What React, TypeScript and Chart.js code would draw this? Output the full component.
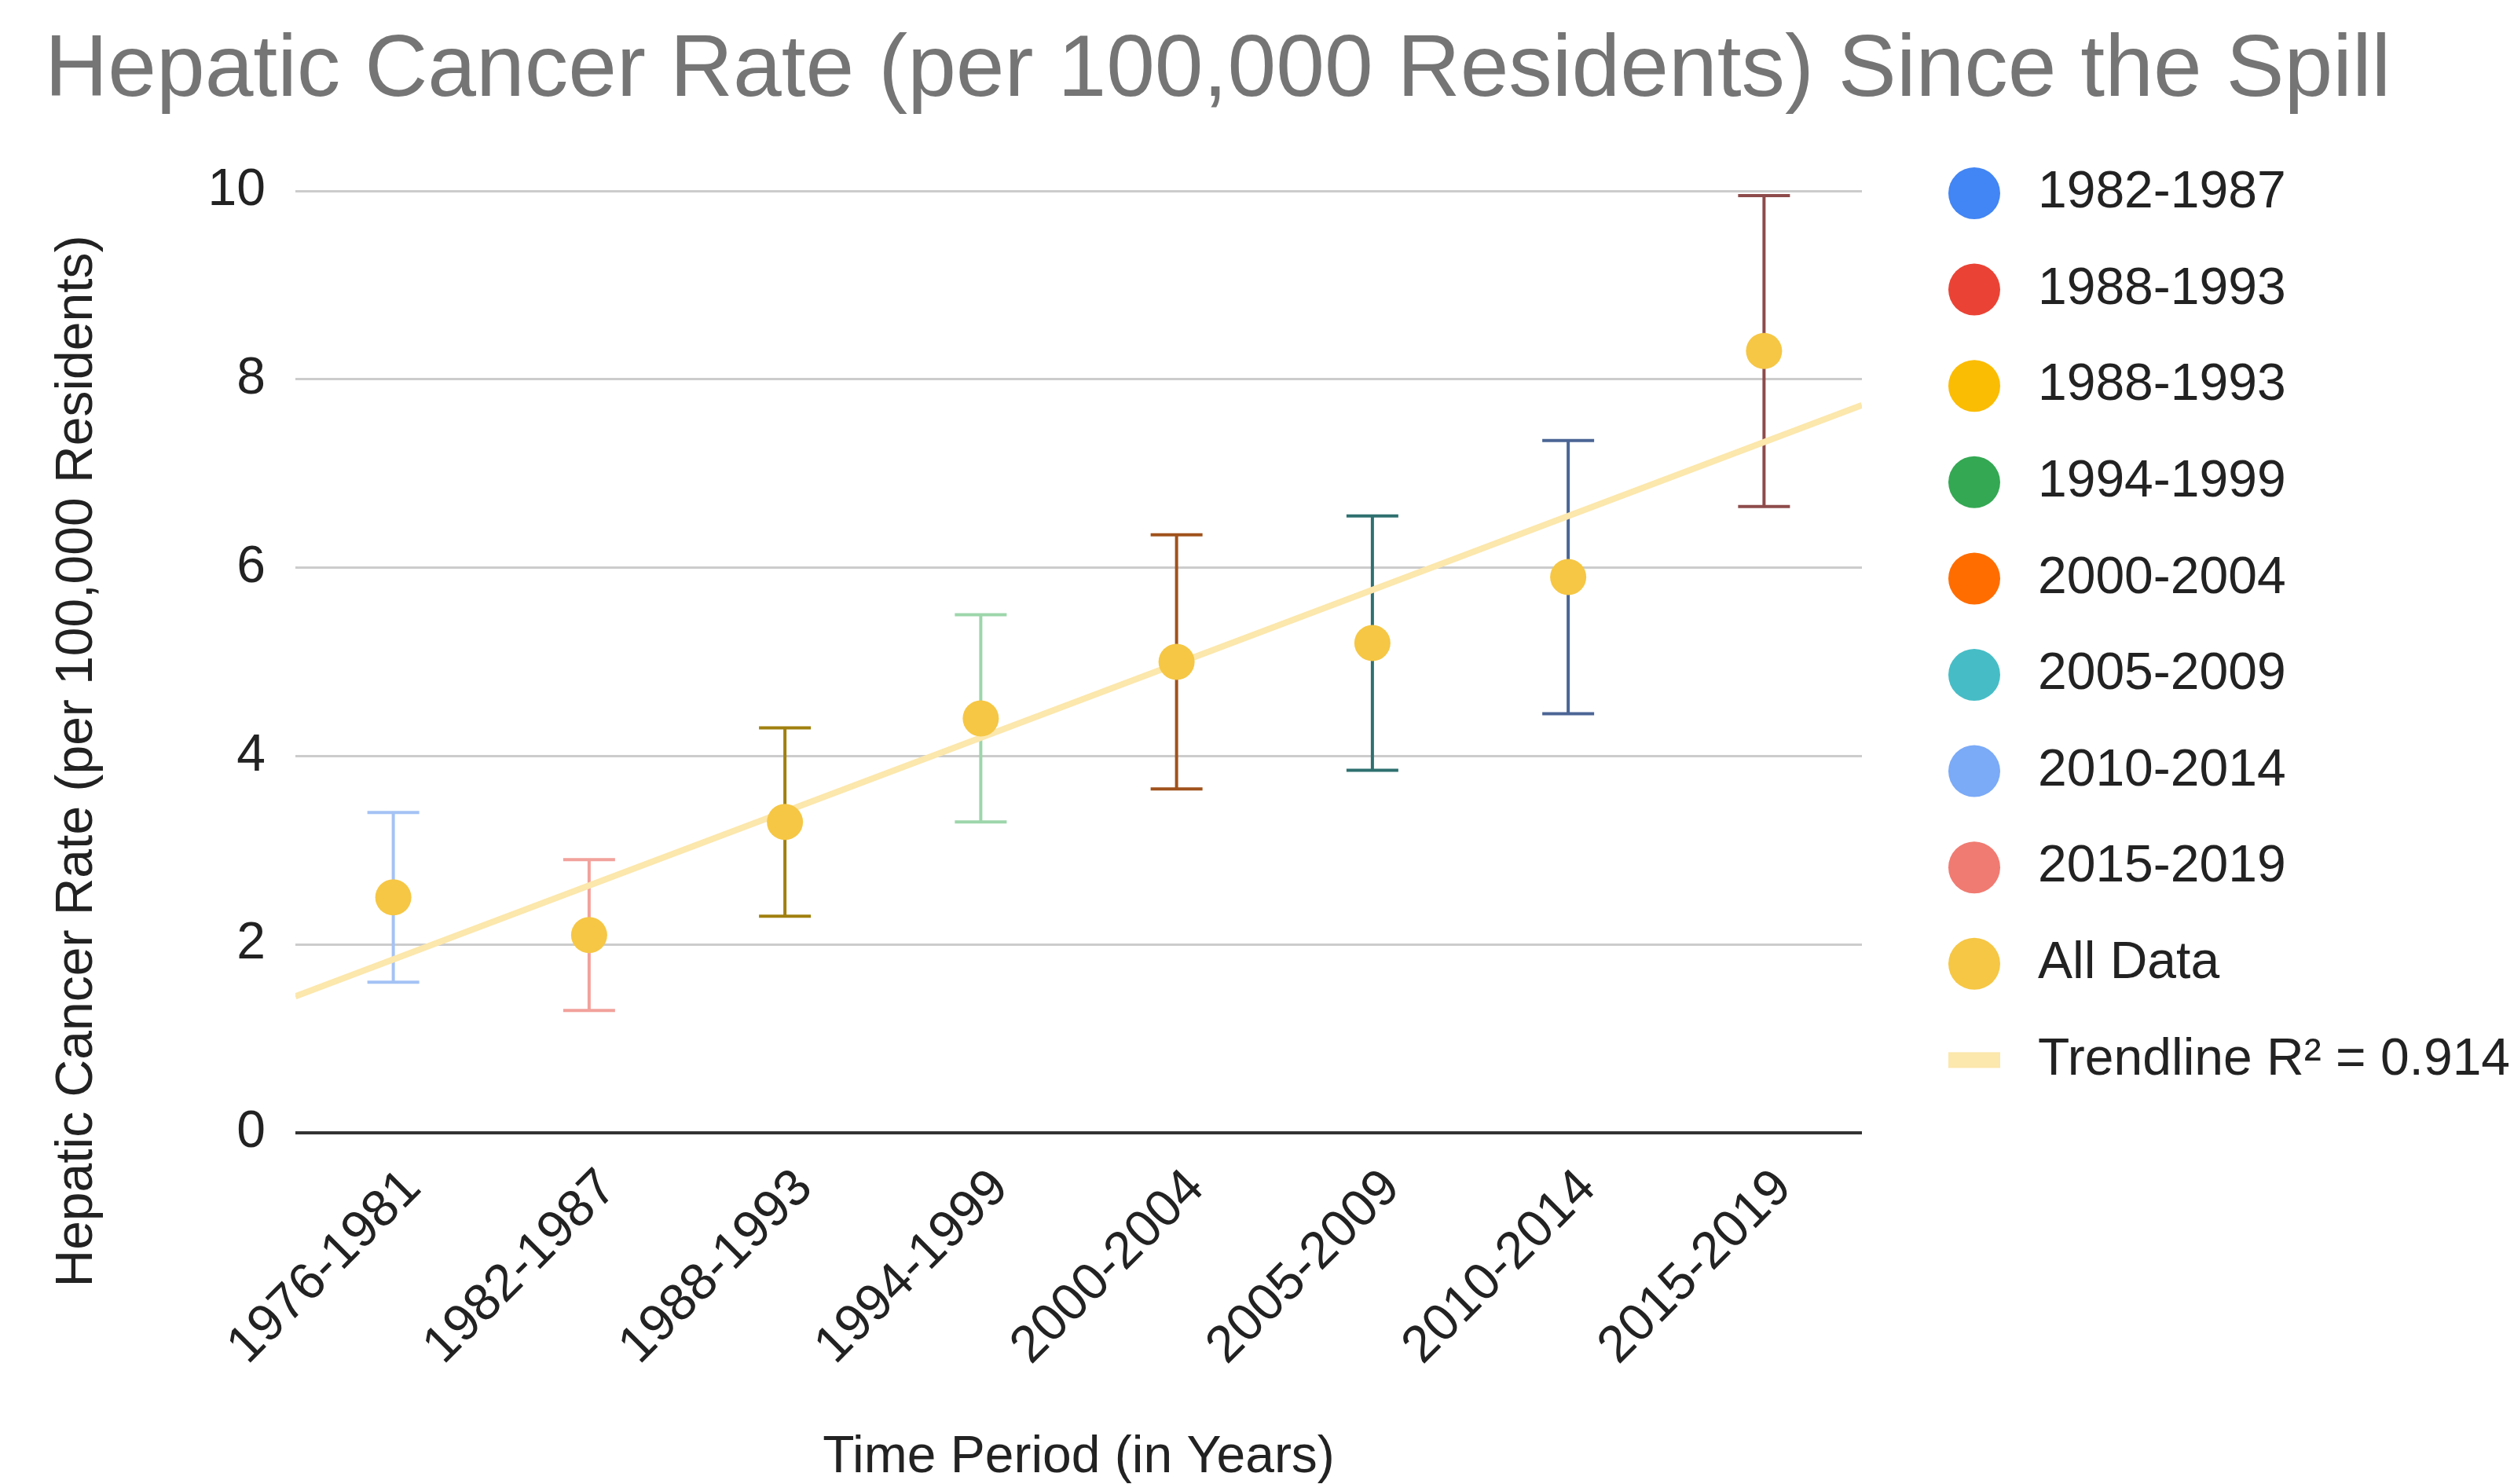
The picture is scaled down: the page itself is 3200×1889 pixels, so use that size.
import React, { useEffect, useRef } from "react";
import { Chart, registerables } from "chart.js";

Chart.register(...registerables);

const chartTitle = "Hepatic Cancer Rate (per 100,000 Residents) Since the Spill";
const xTitle = "Time Period (in Years)";
const yTitle = "Hepatic Cancer Rate (per 100,000 Residents)";

const categories = [
  "1976-1981",
  "1982-1987",
  "1988-1993",
  "1994-1999",
  "2000-2004",
  "2005-2009",
  "2010-2014",
  "2015-2019",
];
const rates = [2.5, 2.1, 3.3, 4.4, 5.0, 5.2, 5.9, 8.3];
const errorLow = [1.6, 1.3, 2.3, 3.3, 3.65, 3.85, 4.45, 6.65];
const errorHigh = [3.4, 2.9, 4.3, 5.5, 6.35, 6.55, 7.35, 9.95];
const errorColors = [
  "#a4c2f4",
  "#f2a19b",
  "#a0800f",
  "#9dd6ab",
  "#a0521c",
  "#2f7070",
  "#4b6595",
  "#8e4b4b",
];
const yTicks = [0, 2, 4, 6, 8, 10];

const legendLabels = [
  "1982-1987",
  "1988-1993",
  "1988-1993",
  "1994-1999",
  "2000-2004",
  "2005-2009",
  "2010-2014",
  "2015-2019",
  "All Data",
  "Trendline R² = 0.914",
];
const legendColors = [
  "#4285f4",
  "#ea4335",
  "#fbbc04",
  "#34a853",
  "#ff6d01",
  "#46bdc6",
  "#7baaf7",
  "#f07b72",
  "#f6c745",
  "#fce7ac",
];

const FONT = "'Liberation Sans', Arial, sans-serif";
const POINT_COLOR = "#f6c745";
const TREND_COLOR = "#fce7ac";
const TEXT_COLOR = "#222222";

export default function App() {
  const ref = useRef<HTMLCanvasElement>(null);

  useEffect(() => {
    if (!ref.current) return;
    const n = rates.length;
    // least-squares trendline through the plotted values
    const mx = (n - 1) / 2;
    const my = rates.reduce((a, b) => a + b, 0) / n;
    let sxy = 0;
    let sxx = 0;
    rates.forEach((y, i) => {
      sxy += (i - mx) * (y - my);
      sxx += (i - mx) * (i - mx);
    });
    const slope = sxy / sxx;
    const intercept = my - slope * mx;
    const trend = [
      { x: -0.5, y: intercept + slope * -0.5 },
      { x: n - 0.5, y: intercept + slope * (n - 0.5) },
    ];

    const errorBars = {
      id: "errorBars",
      beforeDatasetsDraw(chart: any) {
        const { ctx, scales } = chart;
        const xs = scales.x;
        const ys = scales.y;
        ctx.save();
        ctx.lineWidth = 4;
        categories.forEach((_, i) => {
          const x = xs.getPixelForValue(i);
          const yl = ys.getPixelForValue(errorLow[i]);
          const yh = ys.getPixelForValue(errorHigh[i]);
          ctx.strokeStyle = errorColors[i];
          ctx.beginPath();
          ctx.moveTo(x, yl);
          ctx.lineTo(x, yh);
          ctx.moveTo(x - 33, yl);
          ctx.lineTo(x + 33, yl);
          ctx.moveTo(x - 33, yh);
          ctx.lineTo(x + 33, yh);
          ctx.stroke();
        });
        ctx.restore();
      },
    };

    const decorations = {
      id: "decorations",
      afterDraw(chart: any) {
        const { ctx, chartArea } = chart;
        ctx.save();
        // chart title
        ctx.fillStyle = "#757575";
        ctx.font = `111px ${FONT}`;
        ctx.textAlign = "left";
        ctx.textBaseline = "alphabetic";
        ctx.fillText(chartTitle, 57, 122);

        // y axis title
        ctx.save();
        ctx.translate(99, 969);
        ctx.rotate(-Math.PI / 2);
        ctx.fillStyle = TEXT_COLOR;
        ctx.font = `66px ${FONT}`;
        ctx.textAlign = "center";
        ctx.textBaseline = "middle";
        ctx.fillText(yTitle, 0, 0);
        ctx.restore();

        // legend
        const lx = chartArea.right + 143;
        const ly = chartArea.top + 3;
        const step = 122.6;
        ctx.font = `66px ${FONT}`;
        ctx.textAlign = "left";
        ctx.textBaseline = "middle";
        legendLabels.forEach((label, i) => {
          const cy = ly + i * step;
          ctx.fillStyle = legendColors[i];
          if (i === legendLabels.length - 1) {
            ctx.fillRect(lx - 33, cy - 10, 66, 20);
          } else {
            ctx.beginPath();
            ctx.arc(lx, cy, 33, 0, Math.PI * 2);
            ctx.fill();
          }
          ctx.fillStyle = TEXT_COLOR;
          ctx.fillText(label, lx + 81, cy);
        });
        ctx.restore();
      },
    };

    const chart = new Chart(ref.current, {
      type: "scatter",
      data: {
        datasets: [
          {
            label: "All Data",
            data: rates.map((y, i) => ({ x: i, y })),
            backgroundColor: POINT_COLOR,
            borderWidth: 0,
            pointRadius: 23,
            pointHoverRadius: 23,
            order: 0,
          },
          {
            type: "line",
            label: "Trendline",
            data: trend,
            borderColor: TREND_COLOR,
            borderWidth: 8,
            pointRadius: 0,
            fill: false,
            order: 1,
          } as any,
        ],
      },
      options: {
        animation: false,
        responsive: true,
        maintainAspectRatio: false,
        devicePixelRatio: 1,
        layout: { padding: { left: 0, right: 830, top: 243, bottom: 0 } },
        plugins: {
          legend: { display: false },
          tooltip: { enabled: false },
          title: { display: false },
        },
        scales: {
          x: {
            type: "linear",
            min: -0.5,
            max: n - 0.5,
            afterBuildTicks: (axis: any) => {
              axis.ticks = categories.map((_, i) => ({ value: i }));
            },
            afterFit: (s: any) => {
              s.height = 447;
            },
            ticks: {
              autoSkip: false,
              minRotation: 45,
              maxRotation: 45,
              padding: 24,
              labelOffset: 25,
              color: TEXT_COLOR,
              font: { family: FONT, size: 66 },
              callback: (v: any) => categories[v] ?? "",
            },
            grid: { display: false },
            border: { display: false },
            title: {
              display: true,
              text: xTitle,
              color: TEXT_COLOR,
              font: { family: FONT, size: 66 },
              padding: { top: 0, bottom: -6 },
            },
          },
          y: {
            min: 0,
            max: 10,
            afterBuildTicks: (axis: any) => {
              axis.ticks = yTicks.map((v) => ({ value: v }));
            },
            afterFit: (s: any) => {
              s.width = 376;
            },
            ticks: {
              padding: 38,
              color: TEXT_COLOR,
              font: { family: FONT, size: 66 },
            },
            grid: {
              drawTicks: false,
              color: (c: any) => (c.tick && c.tick.value === 0 ? "#333333" : "#cccccc"),
              lineWidth: (c: any) => (c.tick && c.tick.value === 0 ? 4 : 3),
            },
            border: { display: false },
          },
        },
      },
      plugins: [errorBars, decorations],
    } as any);

    return () => chart.destroy();
  }, []);

  return (
    <div style={{ position: "absolute", left: 0, top: 0, width: 3200, height: 1889, background: "#ffffff" }}>
      <canvas ref={ref} />
    </div>
  );
}
